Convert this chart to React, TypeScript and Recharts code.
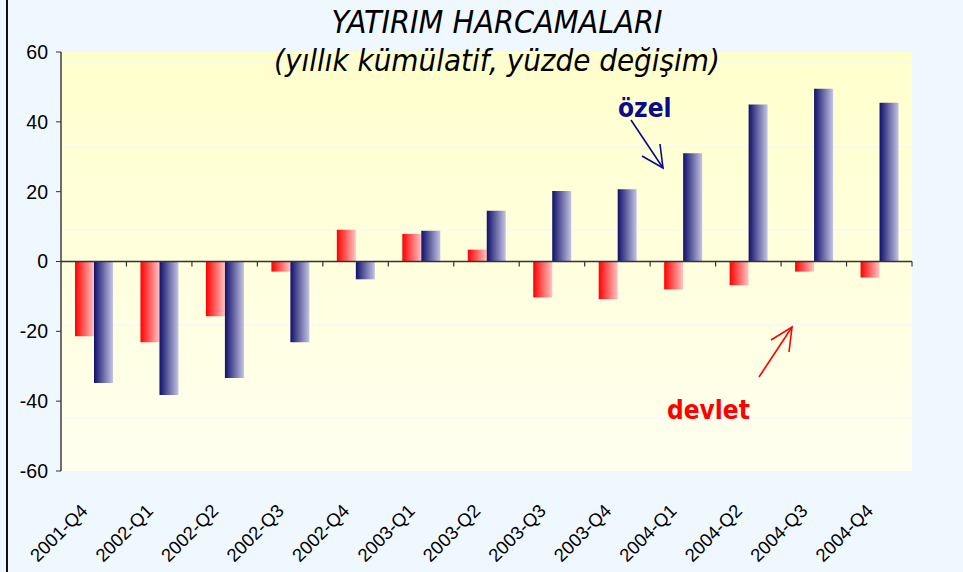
import React from 'react'
import { BarChart, Bar, XAxis, YAxis, CartesianGrid, ReferenceLine } from 'recharts'

const quarters = [
  '2001-Q4', '2002-Q1', '2002-Q2', '2002-Q3', '2002-Q4', '2003-Q1', '2003-Q2',
  '2003-Q3', '2003-Q4', '2004-Q1', '2004-Q2', '2004-Q3', '2004-Q4',
]
const devlet = [-21.4, -23.1, -15.7, -2.9, 9.1, 7.9, 3.4, -10.3, -10.8, -8.0, -6.8, -2.9, -4.6]
const ozel = [-34.8, -38.2, -33.4, -23.1, -5.1, 8.8, 14.5, 20.2, 20.7, 31.0, 45.0, 49.5, 45.5]
const yTicks = [-60, -40, -20, 0, 20, 40, 60]

const data = quarters.map((q, i) => ({ q, devlet: devlet[i], ozel: ozel[i] }))

const TITLE_FONT = '"DejaVu Sans Condensed", "DejaVu Sans", sans-serif'
const AXIS_FONT = '"Liberation Sans", Arial, sans-serif'

function QuarterTick({ x, y, payload }: any) {
  return (
    <g transform={`translate(${x - 5},${y + 33})`}>
      <text textAnchor="end" transform="rotate(-45)" fontSize={18.5} fontFamily={AXIS_FONT} fill="#000">
        {payload.value}
      </text>
    </g>
  )
}

// zero line with tick marks between categories
function ZeroLine(props: any) {
  const { x1, y1, x2, y2 } = props
  const n = quarters.length
  const step = (x2 - x1) / n
  const marks = []
  for (let i = 1; i <= n; i++) {
    const tx = x1 + i * step
    marks.push(<line key={i} x1={tx} x2={tx} y1={y1} y2={y1 + 5} stroke="#333" strokeWidth={1.2} />)
  }
  return (
    <g>
      <line x1={x1} y1={y1} x2={x2} y2={y2} stroke="#333" strokeWidth={1.4} />
      {marks}
    </g>
  )
}

export default function App() {
  return (
    <div style={{ position: 'absolute', left: 0, top: 0, width: 963, height: 572, background: '#f0f8ff' }}>
      <div style={{ position: 'absolute', left: 6, top: 0, width: 2, height: 572, background: '#111' }} />
      <BarChart
        width={963}
        height={572}
        data={data}
        margin={{ top: 52, right: 51, bottom: 41, left: 11 }}
        barGap={0}
        barSize={19}
      >
        <defs>
          <linearGradient id="plotBg" x1="0" y1="0" x2="0" y2="1">
            <stop offset="0%" stopColor="#ffffcc" />
            <stop offset="100%" stopColor="#fffff0" />
          </linearGradient>
          <linearGradient id="redBar" x1="0" y1="0" x2="1" y2="0">
            <stop offset="0%" stopColor="#ff0000" />
            <stop offset="100%" stopColor="#ffc4c4" />
          </linearGradient>
          <linearGradient id="blueBar" x1="0" y1="0" x2="1" y2="0">
            <stop offset="0%" stopColor="#10106a" />
            <stop offset="100%" stopColor="#c4c4e4" />
          </linearGradient>
        </defs>
        <CartesianGrid
          fill="url(#plotBg)"
          vertical={false}
          horizontalPoints={[62, 147, 230, 325, 418]}
          stroke="#f2f6ff"
          strokeWidth={1}
        />
        <XAxis
          dataKey="q"
          height={60}
          axisLine={false}
          tickLine={false}
          interval={0}
          tick={<QuarterTick />}
        />
        <YAxis
          width={50}
          domain={[-60, 60]}
          ticks={yTicks}
          interval={0}
          axisLine={{ stroke: '#333', strokeWidth: 1.4 }}
          tickLine={{ stroke: '#333' }}
          tickSize={5}
          tickMargin={8}
          tick={{ fill: '#000', fontSize: 19.5, fontFamily: AXIS_FONT }}
        />
        <ReferenceLine y={0} shape={<ZeroLine />} />
        <Bar dataKey="devlet" fill="url(#redBar)" isAnimationActive={false} />
        <Bar dataKey="ozel" fill="url(#blueBar)" isAnimationActive={false} />

        <text x={497} y={33} textAnchor="middle" fontSize={32} fontStyle="italic" fontFamily={TITLE_FONT} fill="#000">
          YATIRIM HARCAMALARI
        </text>
        <text x={497} y={71} textAnchor="middle" fontSize={31} fontStyle="italic" fontFamily={TITLE_FONT} fill="#000">
          (yıllık kümülatif, yüzde değişim)
        </text>

        <text x={618} y={117} fontSize={26} fontWeight="bold" fontFamily={TITLE_FONT} fill="#0a0a8c">özel</text>
        <g stroke="#0a0a8c" strokeWidth={1.6} fill="none">
          <line x1={631} y1={120} x2={663} y2={168} />
          <polyline points="642,156 663,168 660,144" />
        </g>

        <text x={667} y={419} fontSize={26} fontWeight="bold" fontFamily={TITLE_FONT} fill="#ff0000">devlet</text>
        <g stroke="#ff0000" strokeWidth={1.6} fill="none">
          <line x1={759} y1={377} x2={792} y2={327} />
          <polyline points="771,340 792,327 789,352" />
        </g>
      </BarChart>
    </div>
  )
}
